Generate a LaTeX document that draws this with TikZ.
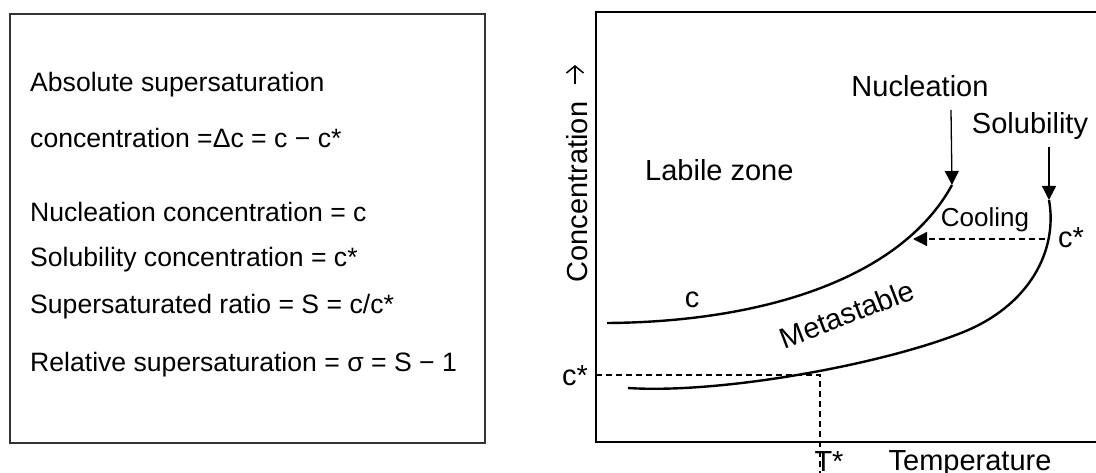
\documentclass[tikz,border=0pt]{standalone}
\usepackage{fontspec}
\setmainfont{Liberation Sans}
\usetikzlibrary{arrows.meta}

\begin{document}
\begin{tikzpicture}[x=1pt, y=-1pt,
    info/.style={font=\fontsize{26.6}{31}\selectfont, inner sep=0pt, anchor=base west},
    lbl/.style={font=\fontsize{29}{34}\selectfont, inner sep=0pt, anchor=base},
    curve/.style={line width=2.4pt},
    arr/.style={line width=1.3pt, -{Triangle[length=14pt,width=14pt]}},
    guide/.style={line width=1.2pt, dash pattern=on 6pt off 4pt}
]
\useasboundingbox (0,0) rectangle (1096,473);
\clip (0,0) rectangle (1096,473);

% definitions box
\draw[line width=1.3pt, black!80] (10,14) rectangle (485,443);
\node[info] (abs)  at (30,92)  {Absolute supersaturation};
\node[info] (dc)   at (30,148) {concentration =Δc = c − c*};
\node[info] (nuc)  at (30,222) {Nucleation concentration = c};
\node[info] (sol)  at (30,267) {Solubility concentration = c*};
\node[info] (ratio) at (30,313) {Supersaturated ratio = S = c/c*};
\node[info] (rel)  at (30,371) {Relative supersaturation = σ = S − 1};

% diagram frame
\draw[line width=1.5pt] (1110,12) -| (596,442) -- (1110,442);

% curves
\coordinate (ctop) at (952,185);
\coordinate (cend) at (607,323);
\coordinate (stop) at (1049,200);
\coordinate (smid) at (961,333);
\coordinate (send) at (628,388);
\draw[curve] (cend) .. controls (760,322) and (900,280) .. (ctop);
\draw[curve] (send) .. controls (720,394) and (880,365) .. (smid)
                    .. controls (1030,306) and (1058,250) .. (stop);

% guide lines
\coordinate (cs) at (596,375);
\coordinate (ts) at (820,375);
\coordinate (tb) at (820,480);
\draw[guide] (cs) -- (ts) -- (tb);
\coordinate (coolA) at (1045,239);
\coordinate (coolB) at (913,239);
\draw[guide, arr] (coolA) -- (coolB);

% labels
\node[lbl, rotate=90] (conc) at (587,192) {Concentration};
\node[lbl] (nucl) at (920,97) {Nucleation};
\node[lbl] (solu) at (1030,134) {Solubility};
\node[lbl, anchor=base west] (labile) at (645,181) {Labile zone};
\node[font=\fontsize{26}{31}\selectfont, inner sep=0pt, anchor=base] (cool) at (985,227) {Cooling};
\node[lbl, anchor=base west] (cstar) at (1058,248) {c*};
\node[lbl] (c) at (692,308) {c};
\node[lbl, anchor=center, rotate=21] (meta) at (847,314) {Metastable};
\node[lbl, anchor=base east] (cstarl) at (588,385) {c*};
\node[lbl] (tstar) at (829,471) {T*};
\node[lbl] (temp) at (970,470) {Temperature};

% pointers
\coordinate (nucA) at (951,110);
\coordinate (solA) at (1049,147);
\draw[arr] (nucA) -- (ctop);
\draw[arr] (solA) -- (stop);
\coordinate (upA) at (575,84);
\coordinate (upB) at (575,65);
\draw[line width=1.5pt, -{Straight Barb[length=7pt,width=17pt]}] (upA) -- (upB);
\end{tikzpicture}
\end{document}
